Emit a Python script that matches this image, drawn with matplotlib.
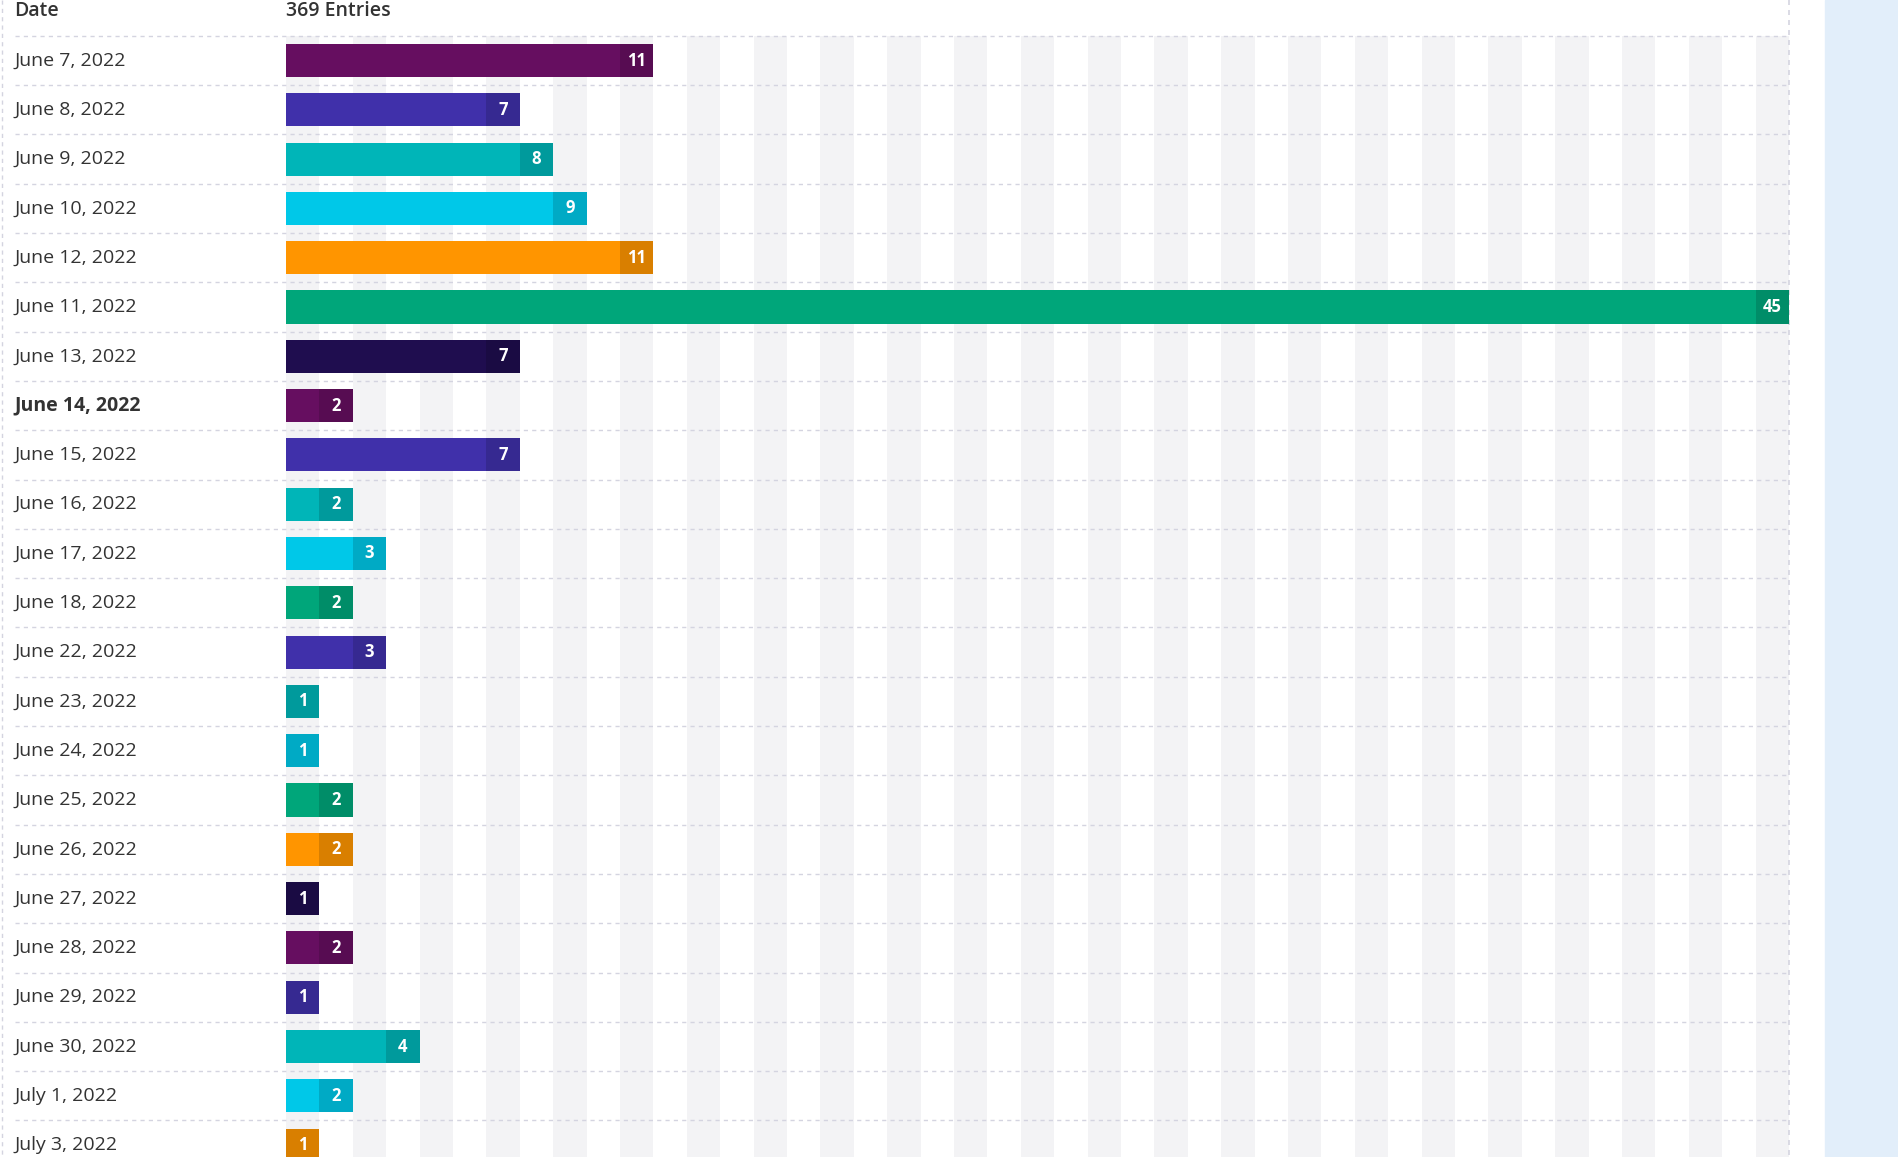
import matplotlib
matplotlib.use("Agg")
import matplotlib.pyplot as plt
from matplotlib.colors import to_rgb
from matplotlib.patches import Rectangle

dates = ["June 7, 2022","June 8, 2022","June 9, 2022","June 10, 2022","June 12, 2022",
         "June 11, 2022","June 13, 2022","June 14, 2022","June 15, 2022","June 16, 2022",
         "June 17, 2022","June 18, 2022","June 22, 2022","June 23, 2022","June 24, 2022",
         "June 25, 2022","June 26, 2022","June 27, 2022","June 28, 2022","June 29, 2022",
         "June 30, 2022","July 1, 2022","July 3, 2022"]
counts = [11,7,8,9,11,45,7,2,7,2,3,2,3,1,1,2,2,1,2,1,4,2,1]
P, I, T, C, O, G, N = "#660e60", "#4030aa", "#00b5b8", "#00c8e8", "#ff9500", "#00a67a", "#1f0d4f"
colors = [P,I,T,C,O,G,N,P,I,T,C,G,I,T,C,G,O,N,P,I,T,C,O]
bold_row = "June 14, 2022"
header_left, header_right = "Date", "369 Entries"
xmax = 45

W, H = 1899, 1157
fig = plt.figure(figsize=(W/100, H/100), dpi=100)
plt.rcParams['font.family'] = ['Open Sans', 'DejaVu Sans']
fig.patches.append(Rectangle((1825/W, 0), 1-1825/W, 1, transform=fig.transFigure,
                             color="#e2eefa", zorder=0))
x0, x1 = 286, 1789
ax = fig.add_axes([x0/W, 0, (x1-x0)/W, 1])
ax.set_facecolor("none")
step = 49.3
top = 1 - 60.5/step
bottom = 1 + (H-60.5)/step
ax.set_ylim(bottom, top)
ax.set_xlim(0, xmax)
ax.axis("off")

n = len(dates)
for u in range(0, xmax, 2):
    ax.add_patch(Rectangle((u, 0.5), 1, bottom-0.5, color="#f3f3f5", zorder=0, lw=0))

lx = (14.5-x0)/(x1-x0)
for k in range(n+1):
    ax.plot([lx, 1], [k+0.5, k+0.5], transform=ax.get_yaxis_transform(),
            ls=(0,(3,3)), color="#d4d4e0", lw=1, clip_on=False, zorder=1)
ax.plot([1, 1], [top, bottom], ls=(0,(3,3)), color="#d4d4e0", lw=1.2,
        transform=ax.get_yaxis_transform(), clip_on=False)
ax.plot([lx-0.008, lx-0.008], [top, bottom], ls=(0,(3,3)), color="#d4d4e0", lw=1,
        transform=ax.get_yaxis_transform(), clip_on=False)

ax.text(lx, 0, header_left, transform=ax.get_yaxis_transform(), va="center",
        fontsize=14, color="#333", fontweight="semibold")
ax.text(0, 0, header_right, va="center", fontsize=14, color="#333", fontweight="semibold")

ys = list(range(1, n+1))
ax.barh(ys, counts, height=0.67, color=colors, zorder=2)
for y, v, c, d in zip(ys, counts, colors, dates):
    dark = tuple(ch*0.85 for ch in to_rgb(c))
    ax.barh(y, 1, left=v-1, height=0.67, color=dark, zorder=3)
    ax.text(v-0.5, y, str(v), ha="center", va="center", color="white",
            fontsize=12, fontweight="bold", zorder=4)
    ax.text(lx, y, d, transform=ax.get_yaxis_transform(), va="center", fontsize=14,
            color="#333", fontweight="bold" if d == bold_row else "normal")

fig.savefig("out.png", dpi=100)
